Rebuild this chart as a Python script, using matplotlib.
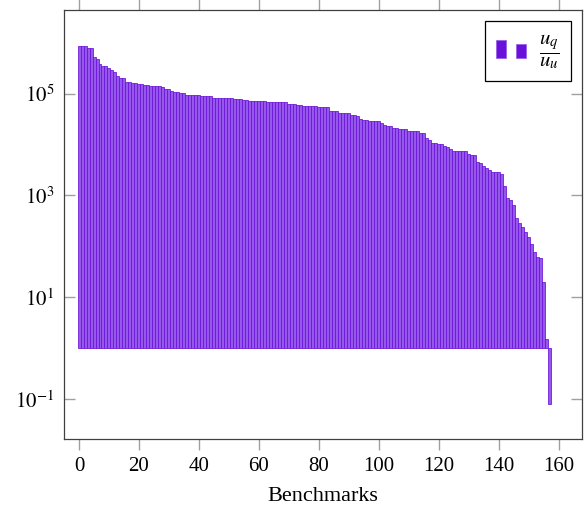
import matplotlib
matplotlib.use("Agg")
import matplotlib.pyplot as plt
from matplotlib.patches import Rectangle
from matplotlib.legend_handler import HandlerBase
import numpy as np

plt.rcParams['font.family'] = ['Liberation Serif', 'DejaVu Serif']
plt.rcParams['mathtext.fontset'] = 'stix'

# ratio u_q / u_u per benchmark (sorted descending)
values = [
    870000, 870000, 870000, 776000, 776000, 525000, 468000, 380000, 347000, 347000,
    316000, 288000, 263000, 224000, 204000, 204000, 166000, 166000, 158000, 158000,
    155000, 155000, 145000, 145000, 141000, 141000, 141000, 138000, 132000, 123000,
    123000, 112000, 107000, 107000, 102000, 102000, 95500, 93300, 93300, 93300,
    93300, 91200, 91200, 91200, 91200, 83200, 83200, 83200, 83200, 83200,
    83200, 83200, 79400, 79400, 79400, 75900, 75900, 70800, 70800, 70800,
    70800, 70800, 70800, 69200, 69200, 69200, 69200, 69200, 69200, 69200,
    63100, 63100, 63100, 60300, 60300, 57500, 57500, 57500, 57500, 57500,
    53700, 53700, 53700, 53700, 44700, 44700, 44700, 41700, 41700, 41700,
    41700, 38000, 38000, 36300, 32400, 30900, 30900, 29500, 29500, 28800,
    28800, 26300, 24500, 23400, 23400, 21400, 21400, 20400, 20400, 20400,
    18600, 18600, 18600, 18600, 16600, 16600, 13500, 12300, 10700, 10700,
    10200, 10200, 9330, 8910, 8130, 7410, 7410, 7410, 7590, 7590,
    6610, 6310, 6310, 4470, 4270, 3720, 3470, 3160, 2950, 2950,
    2950, 2630, 1510, 891, 832, 661, 363, 288, 245, 195,
    155, 112, 76, 63, 60, 20, 1.5, 0.081,
]
benchmarks = list(range(len(values)))

xticks = [0, 20, 40, 60, 80, 100, 120, 140, 160]
yticks = [1e-1, 1e1, 1e3, 1e5]
xlabel = "Benchmarks"
legend_label = r'$\dfrac{u_q}{u_u}$'

dark = '#6a10d8'
fill = '#9558ea'

fig = plt.figure(figsize=(5.84, 5.08), dpi=100)
ax = fig.add_axes([0.1096, 0.1358, 0.8870, 0.8445])

base = 1.0
heights = [v - base for v in values]
ax.bar(benchmarks, heights, bottom=base, width=1.0,
       facecolor=fill, edgecolor=dark, linewidth=0.55)

ax.set_yscale('log')
ax.set_xlim(-5, 167.7)
ax.set_ylim(10 ** -1.78, 10 ** 6.64)

ax.set_xticks(xticks)
ax.set_yticks(yticks)
ax.yaxis.set_minor_locator(matplotlib.ticker.NullLocator())
ax.set_yticklabels([r'$10^{-1}$', r'$10^{1}$', r'$10^{3}$', r'$10^{5}$'])
ax.tick_params(axis='y', direction='in', length=8, color='#a0a0a0', width=1,
               left=True, right=True, labelsize=15, pad=7)
ax.tick_params(axis='x', direction='out', length=8, color='#a0a0a0', width=1,
               bottom=True, top=True, labelsize=15, pad=5)
for s in ax.spines.values():
    s.set_color('#404040')
    s.set_linewidth(0.9)
ax.set_xlabel(xlabel, fontsize=16, labelpad=8)


class TwoBarHandler(HandlerBase):
    def create_artists(self, legend, orig_handle, xdescent, ydescent, width,
                       height, fontsize, trans):
        w = width * 0.3
        r1 = Rectangle((xdescent, ydescent - height * 0.05), w, height * 1.25,
                       facecolor=dark, edgecolor=fill, linewidth=0.5, transform=trans)
        r2 = Rectangle((xdescent + width * 0.62, ydescent - height * 0.05), w, height * 0.95,
                       facecolor=dark, edgecolor=fill, linewidth=0.5, transform=trans)
        return [r1, r2]


proxy = Rectangle((0, 0), 1, 1)
leg = ax.legend([proxy], [legend_label], handler_map={Rectangle: TwoBarHandler()},
                loc='upper right', fontsize=15, frameon=True, fancybox=False,
                edgecolor='black', framealpha=1, handlelength=1.6, handletextpad=0.5,
                borderpad=0.5, borderaxespad=0.55)
leg.get_frame().set_linewidth(0.9)

fig.savefig('out.png', dpi=100)
